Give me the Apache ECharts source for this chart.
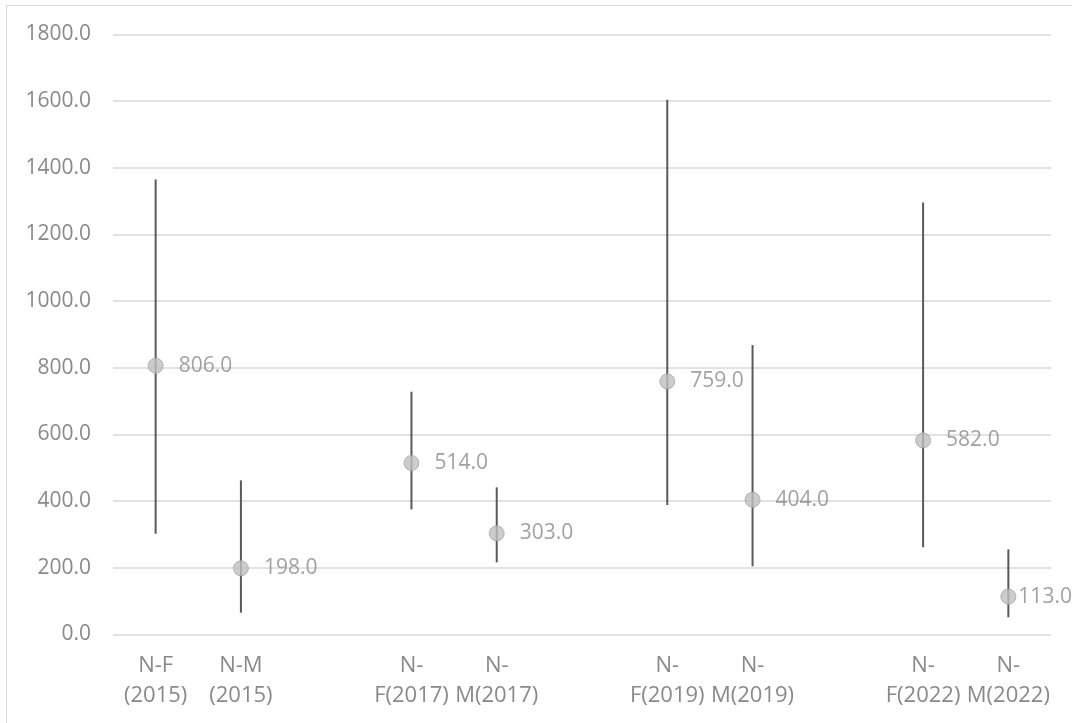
<!DOCTYPE html>
<html>
<head>
<meta charset="utf-8">
<style>
  html, body { margin: 0; padding: 0; background: #ffffff; }
  #chart { width: 1072px; height: 723px; }
</style>
<script src="https://cdn.jsdelivr.net/npm/echarts@6/dist/echarts.min.js"></script>
</head>
<body>
<div id="chart"></div>
<script>
// Groups along the x axis; empty entries leave a gap between survey years
const categories = ['N-F\n(2015)', 'N-M\n(2015)', '', 'N-\nF(2017)', 'N-\nM(2017)', '', 'N-\nF(2019)', 'N-\nM(2019)', '', 'N-\nF(2022)', 'N-\nM(2022)'];
// Central estimate per group
const means = [806, 198, null, 514, 303, null, 759, 404, null, 582, 113];
// Lower and upper ends of each range
const lows  = [302, 65, null, 375, 216, null, 388, 204, null, 261, 51];
const highs = [1365, 462, null, 728, 441, null, 1604, 868, null, 1296, 255];
// Value axis ticks
const yMin = 0, yMax = 1800, yStep = 200;

const textColor = '#898989';
const fontFamily = '"Open Sans", "Noto Sans", sans-serif';

const rangeData = [];
const pointData = [];
categories.forEach(function (c, i) {
  if (means[i] == null) return;
  rangeData.push([i, lows[i], highs[i]]);
  const item = { value: [i, means[i]] };
  // the last label sits tight against the marker near the right edge
  if (i === categories.length - 1) item.label = { distance: 2 };
  pointData.push(item);
});

const chart = echarts.init(document.getElementById('chart'), null, { renderer: 'canvas' });
chart.setOption({
  animation: false,
  backgroundColor: '#ffffff',
  // chart-area frame: only its left and top edges fall inside the page
  graphic: [{
    type: 'polyline',
    shape: { points: [[6.5, 723], [6.5, 5.5], [1072, 5.5]] },
    style: { fill: 'none', stroke: '#d9d9d9', lineWidth: 1 },
    silent: true,
    z: -10
  }],
  grid: { left: 113, right: 21, top: 34.5, bottom: 88.7, containLabel: false },
  xAxis: {
    type: 'category',
    data: categories,
    boundaryGap: true,
    axisLine: { show: false },
    axisTick: { show: false },
    axisLabel: {
      interval: 0,
      margin: 16,
      color: textColor,
      fontFamily: fontFamily,
      fontSize: 22,
      lineHeight: 30,
      align: 'center'
    },
    splitLine: { show: false }
  },
  yAxis: {
    type: 'value',
    min: yMin,
    max: yMax,
    interval: yStep,
    axisLine: { show: false },
    axisTick: { show: false },
    axisLabel: {
      margin: 22,
      color: textColor,
      fontFamily: fontFamily,
      fontSize: 21,
      formatter: function (v) { return v.toFixed(1); }
    },
    splitLine: { lineStyle: { color: '#d9d9d9', width: 1.5 } }
  },
  series: [
    {
      type: 'custom',
      name: 'range',
      z: 1,
      data: rangeData,
      renderItem: function (params, api) {
        const x = api.value(0);
        const lo = api.coord([x, api.value(1)]);
        const hi = api.coord([x, api.value(2)]);
        return {
          type: 'line',
          shape: { x1: lo[0], y1: lo[1], x2: hi[0], y2: hi[1] },
          style: { stroke: '#595959', lineWidth: 2 }
        };
      }
    },
    {
      type: 'scatter',
      name: 'estimate',
      z: 3,
      symbol: 'circle',
      symbolSize: 15,
      itemStyle: { color: '#bfbfbf', borderColor: '#a6a6a6', borderWidth: 1 },
      label: {
        show: true,
        position: 'right',
        distance: 15,
        color: textColor,
        fontFamily: fontFamily,
        fontSize: 21,
        formatter: function (p) { return p.value[1].toFixed(1); }
      },
      data: pointData
    }
  ]
});
</script>
</body>
</html>
